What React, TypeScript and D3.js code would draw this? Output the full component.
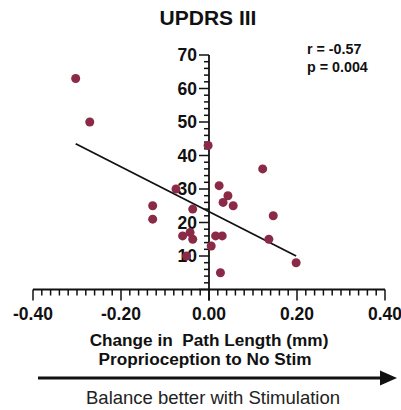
import React from "react";
import * as d3 from "d3";

// Change in path length (mm), proprioception vs no stimulation
const pathChange: number[] = [
  -0.303, -0.271, -0.002, 0.122, -0.075, 0.023, 0.043, 0.032, 0.055, 0.146,
  -0.128, -0.128, -0.037, -0.06, -0.043, -0.037, -0.051, 0.005, 0.015, 0.03,
  0.136, 0.198, 0.026,
];
// UPDRS III scores
const updrs: number[] = [
  63, 50, 43, 36, 30, 31, 28, 26, 25, 22, 25, 21, 24, 16, 17, 15, 10, 13, 16,
  16, 15, 8, 5,
];
const xTicks: number[] = [-0.4, -0.2, 0, 0.2, 0.4];
const yTicks: number[] = [10, 20, 30, 40, 50, 60, 70];
const statsLines: string[] = ["r = -0.57", "p = 0.004"];

const W = 401;
const H = 410;
const FONT = "'Liberation Sans', Arial, Helvetica, sans-serif";
const DOT = "#8a2a47";

const fmtX = (v: number) => d3.format(".2f")(v).replace("\u2212", "-");

export default function App() {
  const x = d3.scaleLinear().domain([-0.4, 0.4]).range([33, 385]);
  const y = d3.scaleLinear().domain([0, 70]).range([289.5, 55]);

  // least-squares fit
  const mx = d3.mean(pathChange)!;
  const my = d3.mean(updrs)!;
  let sxy = 0;
  let sxx = 0;
  pathChange.forEach((v, i) => {
    sxy += (v - mx) * (updrs[i] - my);
    sxx += (v - mx) * (v - mx);
  });
  const slope = sxy / sxx;
  const intercept = my - slope * mx;
  const [x0, x1] = d3.extent(pathChange) as [number, number];
  const fitLine = d3
    .line<number>()
    .x((d) => x(d))
    .y((d) => y(intercept + slope * d));

  const xMinor = d3.range(-0.4, 0.4001, 0.02).map((v) => Math.round(v * 100) / 100);
  const yMinor = d3.range(0, 70.001, 2);
  const x0px = x(0);
  const y0px = y(0);

  return (
    <svg
      width={W}
      height={H}
      style={{ position: "absolute", left: 0, top: 0, background: "#fff" }}
      fontFamily={FONT}
    >
      <text x={208} y={25} textAnchor="middle" fontSize={21} fontWeight="bold" fill="#111">
        UPDRS III
      </text>

      {/* y axis */}
      <line x1={x0px} x2={x0px} y1={y(70)} y2={y0px + 11} stroke="#111" strokeWidth={1.8} />
      {yMinor.map((v) => (
        <line
          key={"ym" + v}
          x1={x0px - (v % 10 === 0 ? 10 : 5)}
          x2={x0px}
          y1={y(v)}
          y2={y(v)}
          stroke="#111"
          strokeWidth={1.5}
        />
      ))}
      {yTicks.map((v) => (
        <text
          key={"yl" + v}
          x={197}
          y={y(v)}
          dy="0.36em"
          textAnchor="end"
          fontSize={17.5}
          fontWeight="bold"
          fill="#111"
        >
          {v}
        </text>
      ))}

      {/* x axis */}
      <line x1={x(-0.4)} x2={x(0.4)} y1={y0px} y2={y0px} stroke="#111" strokeWidth={1.8} />
      {xMinor.map((v) => {
        const major = Math.abs((v * 100) % 20) < 1e-6;
        return (
          <line
            key={"xm" + v}
            x1={x(v)}
            x2={x(v)}
            y1={y0px}
            y2={y0px + (major ? 11 : 6)}
            stroke="#111"
            strokeWidth={1.5}
          />
        );
      })}
      {xTicks.map((v) => (
        <text
          key={"xl" + v}
          x={x(v)}
          y={320}
          textAnchor="middle"
          fontSize={17.5}
          fontWeight="bold"
          fill="#111"
        >
          {fmtX(v)}
        </text>
      ))}

      <text x={209} y={346} textAnchor="middle" fontSize={17.2} fontWeight="bold" fill="#111" style={{ whiteSpace: "pre" }}>
        {"Change in  Path Length (mm)"}
      </text>
      <text x={205} y={365} textAnchor="middle" fontSize={17.2} fontWeight="bold" fill="#111">
        Proprioception to No Stim
      </text>

      {/* direction arrow */}
      <line x1={38} x2={382} y1={378} y2={378} stroke="#111" strokeWidth={3} />
      <path d="M380,370.5 L397,378 L380,385.5 Z" fill="#111" />
      <text x={213} y={404} textAnchor="middle" fontSize={18.5} fill="#222">
        Balance better with Stimulation
      </text>

      {/* stats */}
      {statsLines.map((s, i) => (
        <text key={s} x={307} y={54 + i * 18} fontSize={14.3} fontWeight="bold" fill="#111">
          {s}
        </text>
      ))}

      {/* regression line */}
      <path d={fitLine([x0, x1]) ?? ""} fill="none" stroke="#111" strokeWidth={1.8} />

      {/* points */}
      {pathChange.map((v, i) => (
        <circle key={"p" + i} cx={x(v)} cy={y(updrs[i])} r={4.5} fill={DOT} />
      ))}
    </svg>
  );
}
